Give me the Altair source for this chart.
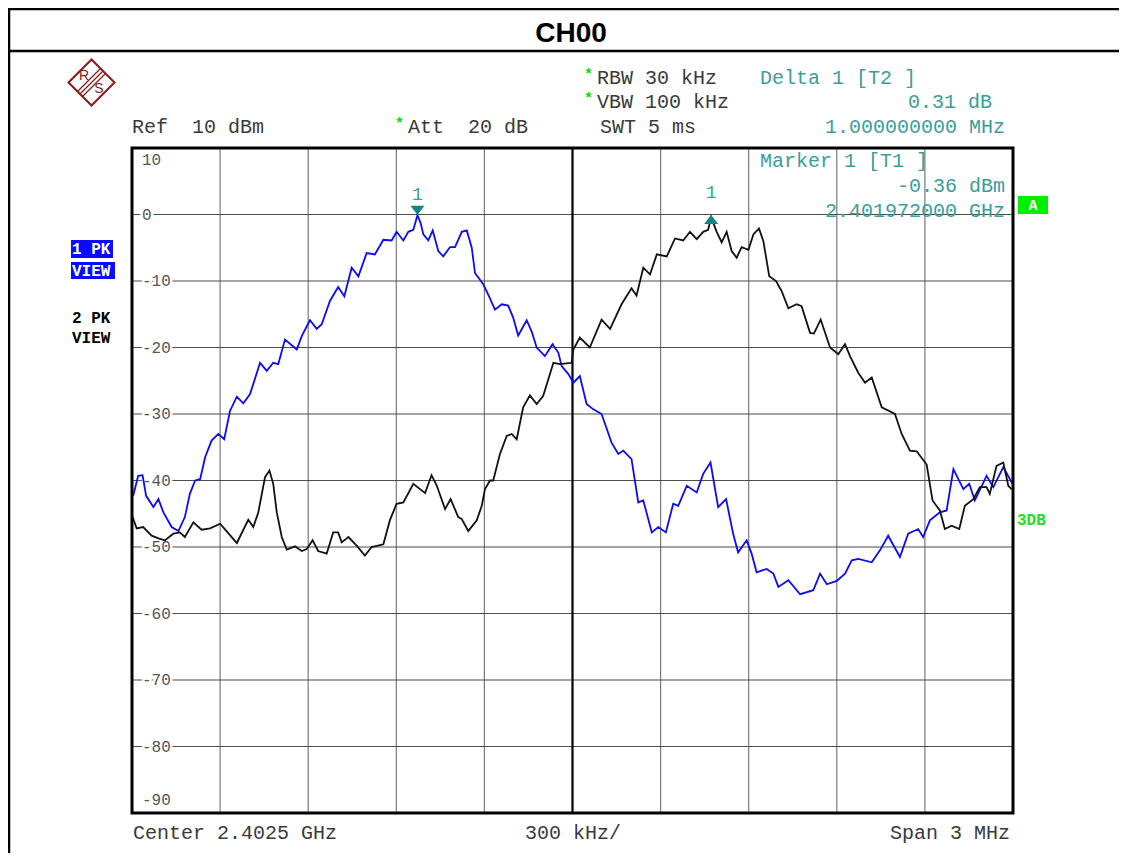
import altair as alt
import pandas as pd

# ---------------- data (frequency offset from 2.401 GHz in kHz, level in dBm) -------------
blue_khz = [4, 21, 36, 48, 73, 90, 107, 135, 158, 180, 197, 215, 232, 249, 271, 294, 314, 334, 357, 379,
            402, 436, 459, 481, 498, 521, 561, 578, 606, 629, 646, 674, 702, 723, 748, 771, 799, 827, 856, 884,
            901, 924, 941, 958, 972, 983, 992, 1009, 1024, 1043, 1060, 1083, 1100, 1123, 1140, 1157, 1168, 1196, 1219, 1236,
            1259, 1281, 1298, 1315, 1344, 1361, 1378, 1406, 1432, 1452, 1463, 1486, 1503, 1525, 1548, 1571, 1599, 1633, 1656, 1673,
            1701, 1724, 1741, 1770, 1792, 1818, 1843, 1860, 1889, 1923, 1945, 1970, 1996, 2023, 2047, 2064, 2093, 2110, 2127, 2161,
            2184, 2201, 2235, 2275, 2320, 2343, 2366, 2400, 2428, 2451, 2473, 2519, 2547, 2575, 2615, 2643, 2677, 2694, 2717, 2751,
            2774, 2797, 2831, 2851, 2870, 2910, 2933, 2967, 2992, 3000]
blue_db = [-42.3, -39.3, -39.2, -42.3, -44.0, -42.8, -44.8, -47.0, -47.6, -45.5, -42.0, -40.0, -39.8, -36.5, -34.0, -33.0, -33.8, -29.5, -27.4, -28.4,
           -27.0, -22.3, -23.5, -22.3, -22.5, -18.8, -20.3, -18.3, -15.9, -17.2, -16.5, -13.0, -10.9, -12.3, -8.0, -9.3, -5.8, -6.0, -3.8, -3.9,
           -2.6, -3.9, -2.6, -2.3, -0.1, -1.3, -3.0, -3.9, -2.4, -5.5, -6.3, -4.9, -4.9, -2.6, -2.4, -5.0, -8.8, -10.5, -12.6, -14.3,
           -13.5, -13.7, -15.5, -18.2, -15.9, -17.6, -20.0, -21.3, -19.5, -20.8, -22.8, -24.0, -25.3, -24.3, -28.5, -29.3, -30.0, -34.3, -36.0, -35.5,
           -36.8, -43.3, -43.0, -47.8, -47.0, -47.8, -43.5, -43.8, -40.8, -41.8, -39.0, -37.3, -44.0, -42.8, -48.0, -50.8, -49.0, -51.0, -53.8, -53.3,
           -54.0, -56.0, -55.0, -57.1, -56.5, -54.0, -55.6, -55.1, -54.0, -52.0, -51.8, -52.3, -50.5, -48.3, -51.5, -48.0, -47.3, -48.5, -46.0, -44.8,
           -44.5, -38.3, -41.3, -40.5, -43.0, -39.3, -41.0, -38.0, -40.0, -40.6]

black_khz = [2, 16, 38, 67, 90, 112, 141, 163, 180, 209, 237, 266, 300, 322, 357, 396, 413, 430, 453, 468,
             481, 493, 510, 527, 555, 578, 595, 615, 634, 663, 685, 702, 714, 737, 765, 793, 816, 856, 878, 901,
             924, 958, 998, 1020, 1038, 1066, 1085, 1111, 1123, 1145, 1174, 1191, 1202, 1219, 1230, 1253, 1276, 1293, 1310, 1332,
             1355, 1378, 1400, 1435, 1457, 1497, 1503, 1525, 1559, 1599, 1628, 1667, 1701, 1718, 1741, 1764, 1787, 1821, 1849, 1877,
             1900, 1923, 1945, 1962, 1972, 1991, 2008, 2025, 2042, 2059, 2076, 2099, 2116, 2135, 2150, 2170, 2193, 2212, 2235, 2263,
             2280, 2309, 2322, 2345, 2377, 2405, 2428, 2445, 2473, 2496, 2519, 2553, 2598, 2621, 2649, 2672, 2706, 2726, 2751, 2768,
             2791, 2817, 2836, 2865, 2887, 2910, 2921, 2944, 2967, 2984, 2995]
black_db = [-45.5, -47.2, -47.0, -48.3, -48.7, -49.0, -48.0, -47.8, -48.5, -46.3, -47.4, -47.2, -46.5, -47.6, -49.4, -45.9, -47.0, -44.8, -39.5, -38.5,
            -40.5, -44.8, -48.5, -50.4, -49.9, -50.6, -50.3, -49.0, -50.6, -51.0, -47.8, -47.8, -49.3, -48.5, -49.8, -51.3, -50.0, -49.6, -46.0, -43.5,
            -43.3, -40.5, -41.9, -39.2, -40.8, -44.3, -42.8, -45.5, -45.8, -47.6, -46.0, -43.8, -41.3, -40.0, -40.0, -36.0, -33.3, -33.0, -33.8, -29.0,
            -27.2, -28.5, -27.3, -22.3, -22.5, -22.3, -20.3, -18.5, -20.0, -15.8, -17.2, -13.5, -11.1, -12.2, -8.0, -9.0, -6.0, -6.3, -3.6, -3.9,
            -2.6, -3.7, -2.6, -2.3, -0.4, -2.6, -4.2, -2.6, -5.5, -6.5, -4.9, -5.3, -3.0, -2.1, -4.0, -9.3, -10.0, -11.5, -14.1, -13.5,
            -13.8, -17.8, -17.9, -15.8, -20.0, -21.0, -19.5, -21.3, -23.8, -25.3, -24.5, -29.0, -30.0, -33.0, -35.5, -35.6, -37.6, -43.0, -44.5, -47.3,
            -46.8, -47.3, -43.8, -42.8, -41.0, -41.0, -42.0, -37.8, -37.3, -40.8, -41.3]

x_grid_khz = [300, 600, 900, 1200, 1800, 2100, 2400, 2700]
center_khz = [1500]
y_grid_db = [0, -10, -20, -30, -40, -50, -60, -70, -80]
y_grid_labels = ["0", "-10", "-20", "-30", "-40", "-50", "-60", "-70", "-80"]

blue_marker_khz = [972]
blue_marker_db = [-0.05]
black_marker_khz = [1972]
black_marker_db = [-0.36]

# ---------------- styling -------------
W, H = 881, 665
MONO = "Liberation Mono"
TEAL = "#3a9e9c"
MARK_TEAL = "#13877f"
GREEN = "#00dd00"
NB = "\u00a0"
HDR = "#3a3a3a"

xs = alt.Scale(domain=[0, 3000], nice=False, zero=False)
ys = alt.Scale(domain=[-90, 10], nice=False, zero=False)


def X(f):
    return alt.X(f, type="quantitative", scale=xs, axis=None)


def Y(f):
    return alt.Y(f, type="quantitative", scale=ys, axis=None)


ONE = alt.Data(values=[{}])


def txt(s, x, y, color=HDR, size=20, align="left", weight="normal", font=MONO):
    return alt.Chart(ONE).mark_text(text=s, align=align, baseline="middle", font=font,
                                    fontSize=size, fontWeight=weight, color=color).encode(
        x=alt.value(x), y=alt.value(y))


def box(x1, x2, y1, y2, color):
    return alt.Chart(ONE).mark_rect(color=color).encode(
        x=alt.value(x1), x2=alt.value(x2), y=alt.value(y1), y2=alt.value(y2))


def hline(x1, x2, y, width=2.5, color="black"):
    return alt.Chart(ONE).mark_rule(color=color, strokeWidth=width).encode(
        x=alt.value(x1), x2=alt.value(x2), y=alt.value(y))


def vline(x, y1, y2, width=2.5, color="black"):
    return alt.Chart(ONE).mark_rule(color=color, strokeWidth=width).encode(
        x=alt.value(x), y=alt.value(y1), y2=alt.value(y2))


def seg(x1, y1, x2, y2, color, width):
    return alt.Chart(ONE).mark_rule(color=color, strokeWidth=width).encode(
        x=alt.value(x1), x2=alt.value(x2), y=alt.value(y1), y2=alt.value(y2))


# grid
vgrid = alt.Chart(pd.DataFrame({"f": x_grid_khz})).mark_rule(color="#7a7a7a", strokeWidth=1.2).encode(x=X("f"))
hgrid = alt.Chart(pd.DataFrame({"d": y_grid_db})).mark_rule(color="#4d4d4d", strokeWidth=1.2).encode(y=Y("d"))
center = alt.Chart(pd.DataFrame({"f": center_khz})).mark_rule(color="black", strokeWidth=2.2).encode(x=X("f"))

lab_df = pd.DataFrame({"d": y_grid_db, "t": y_grid_labels})
lab_halo = alt.Chart(lab_df).mark_text(align="left", baseline="middle", font=MONO, fontSize=16,
                                       color="white", stroke="white", strokeWidth=5).encode(
    x=alt.value(10), y=Y("d"), text="t:N")
lab = alt.Chart(lab_df).mark_text(align="left", baseline="middle", font=MONO, fontSize=16,
                                  color="#555555").encode(x=alt.value(10), y=Y("d"), text="t:N")

# traces
blue = alt.Chart(pd.DataFrame({"f": blue_khz, "d": blue_db})).mark_line(
    color="#0a0aff", strokeWidth=1.8).encode(x=X("f"), y=Y("d"))
black = alt.Chart(pd.DataFrame({"f": black_khz, "d": black_db})).mark_line(
    color="#111111", strokeWidth=1.8).encode(x=X("f"), y=Y("d"))

# markers
bm_df = pd.DataFrame({"f": blue_marker_khz, "d": blue_marker_db})
km_df = pd.DataFrame({"f": black_marker_khz, "d": black_marker_db})
bm_tri = alt.Chart(bm_df).mark_point(shape="M-1,-0.65L1,-0.65L0,0.65Z", filled=True, size=196,
                                     color=MARK_TEAL, opacity=1, yOffset=-4.5).encode(x=X("f"), y=Y("d"))
km_tri = alt.Chart(km_df).mark_point(shape="M0,-0.65L1,0.65L-1,0.65Z", filled=True, size=196,
                                     color=MARK_TEAL, opacity=1, yOffset=2.5).encode(x=X("f"), y=Y("d"))
bm_lab = alt.Chart(bm_df).mark_text(text="1", font=MONO, fontSize=18, color=TEAL, yOffset=-20).encode(
    x=X("f"), y=Y("d"))
km_lab = alt.Chart(km_df).mark_text(text="1", font=MONO, fontSize=18, color=TEAL, yOffset=-24).encode(
    x=X("f"), y=Y("d"))

# plot frame
frame = alt.Chart(ONE).mark_rect(fillOpacity=0, stroke="black", strokeWidth=3).encode(
    x=alt.value(0), x2=alt.value(W), y=alt.value(0), y2=alt.value(H))

layers = [vgrid, hgrid, center, lab_halo, lab,
          txt("10", 10, 12, color="#555555", size=16),
          txt("-90", 10, 652, color="#555555", size=16),
          blue, black, bm_tri, km_tri, bm_lab, km_lab, frame]

# outer page frame and title bar
layers += [hline(-124, 990, -139), hline(-124, 990, -97), vline(-123, -140, 705)]
layers += [txt("CH00", 439, -114, color="black", size=28, align="center", weight="bold", font="Liberation Sans")]

# R&S logo
layers += [alt.Chart(ONE).mark_point(shape="diamond", size=2116, filled=False, stroke="#8b1a1a",
                                     strokeWidth=2, opacity=1).encode(x=alt.value(-40.5), y=alt.value(-65.5))]
for o in (-2.5, 0, 2.5):
    layers.append(seg(-29 + o, -77 + o, -52 + o, -54 + o, "#8b1a1a", 1.3))
layers += [txt("R", -48, -72, color="#8b1a1a", size=14, align="center", font="Liberation Sans"),
           txt("S", -33, -59, color="#8b1a1a", size=14, align="center", font="Liberation Sans")]

# header settings
layers += [
    txt("*", 452, -74, color=GREEN, size=15, weight="bold"),
    txt("RBW 30 kHz", 465, -70),
    txt("*", 452, -50, color=GREEN, size=15, weight="bold"),
    txt("VBW 100 kHz", 465, -46),
    txt("Ref" + NB + NB + "10 dBm", 0, -21),
    txt("*", 263, -25, color=GREEN, size=15, weight="bold"),
    txt("Att" + NB + NB + "20 dB", 276, -21),
    txt("SWT 5 ms", 468, -21),
    txt("Delta 1 [T2 ]", 628, -70, color=TEAL),
    txt("0.31 dB", 860, -46, color=TEAL, align="right"),
    txt("1.000000000 MHz", 873, -21, color=TEAL, align="right"),
    txt("Marker 1 [T1 ]", 628, 13, color=TEAL),
    txt("-0.36 dBm", 873, 38, color=TEAL, align="right"),
    txt("2.401972000 GHz", 873, 63, color=TEAL, align="right"),
]

# trace legend boxes
layers += [
    box(-61, -19, 92, 110, "#0a0aff"),
    box(-61, -17, 114, 131, "#0a0aff"),
    txt("1" + NB + "PK", -60, 101, color="white", size=16, weight="bold"),
    txt("VIEW", -60, 122.5, color="white", size=16, weight="bold"),
    txt("2" + NB + "PK", -60, 170, color="black", size=16, weight="bold"),
    txt("VIEW", -60, 190, color="black", size=16, weight="bold"),
    box(886, 916, 48, 66, "#00ee00"),
    txt("A", 901, 57, color="white", size=15, align="center", weight="bold"),
    txt("3DB", 885, 372, color="#22dd22", size=16, weight="bold"),
]

# bottom annotations
layers += [
    txt("Center 2.4025 GHz", 1, 685),
    txt("300 kHz/", 393, 685),
    txt("Span 3 MHz", 878, 685, align="right"),
]

chart = alt.layer(*layers).properties(
    width=W, height=H,
    padding={"left": 124, "top": 140, "right": 106, "bottom": 40},
    autosize=alt.AutoSizeParams(type="none"),
    background="white",
).configure_view(strokeWidth=0)

chart.save("out.html", embed_options={"renderer": "svg", "actions": False})
